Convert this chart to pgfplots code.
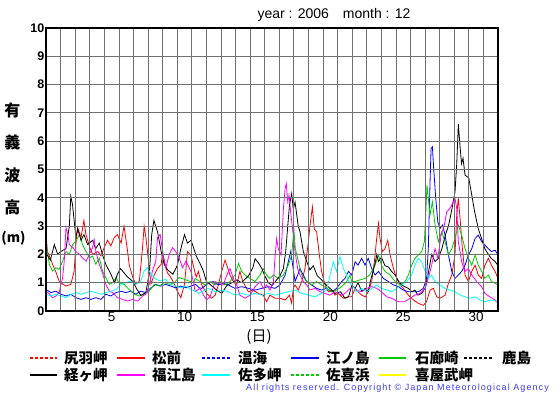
\documentclass[border=0pt]{standalone}
\usepackage{fontspec}
\setmainfont{Liberation Sans}
\newfontfamily\cjk{Noto Sans CJK JP}
\newfontfamily\copyfont{Liberation Sans}[LetterSpace=12]
\usepackage{pgfplots}
\pgfplotsset{compat=1.18}
\definecolor{gridc}{HTML}{707070}
\definecolor{sred}{HTML}{FF0000}
\definecolor{sblue}{HTML}{0000FF}
\definecolor{sgreen}{HTML}{00CC00}
\definecolor{smag}{HTML}{FF00FF}
\definecolor{scyan}{HTML}{00FFFF}
\definecolor{syel}{HTML}{FFFF00}
\definecolor{copyc}{HTML}{3C3CF0}
\tikzset{
  ser/.style={line width=0.8pt},
  leg/.style={line width=2.8pt},
  legd/.style={line width=1.4pt,dash pattern=on 3pt off 2pt},
  legt/.style={anchor=west,font=\cjk\bfseries\fontsize{14.5}{14.5}\selectfont,inner sep=0pt},
}
\begin{document}
\begin{tikzpicture}[x=1pt,y=1pt]
\useasboundingbox (0,0) rectangle (555,395);
\begin{axis}[
  at={(46pt,84pt)}, anchor=south west, scale only axis,
  width=452pt, height=283pt,
  xmin=0, xmax=31, ymin=0, ymax=10,
  xtick={4.5,9.5,14.5,19.5,24.5,29.5}, xticklabels={5,10,15,20,25,30},
  minor xtick={1,...,30},
  ytick={0,...,10},
  xmajorgrids=false, xminorgrids=true, ymajorgrids=true,
  major tick length=0pt, minor tick length=0pt,
  grid style={draw=gridc,line width=0.8pt},
  minor grid style={draw=gridc,line width=0.8pt},
  axis line style={line width=1.4pt},
  /pgf/number format/assume math mode=true,
  xticklabel style={font=\fontsize{13.5}{13.5}\selectfont,inner ysep=1pt},
  yticklabel style={font=\bfseries\fontsize{12.5}{12.5}\selectfont,inner xsep=1.5pt},
  axis on top,
]
% 松前
\addplot[ser,sred] coordinates {(0,2.75)(0.1,2.1)(0.23,1.95)(0.45,1.65)(0.7,1.35)(0.9,1.05)(1.15,0.95)(1.37,0.88)(1.7,0.94)(1.93,1.4)(2.05,2.35)(2.17,2.95)(2.4,2.6)(2.6,3.2)(2.74,2.7)(3.0,2.25)(3.2,2.0)(3.55,2.1)(3.77,1.95)(4.0,2.25)(4.22,2.5)(4.45,2.3)(4.68,2.6)(4.9,2.7)(5.15,2.4)(5.35,3.0)(5.6,2.1)(5.7,1.65)(5.94,1.2)(6.15,0.95)(6.4,1.05)(6.6,2.1)(6.73,3.0)(6.85,2.6)(6.96,2.1)(7.1,1.4)(7.2,0.95)(7.4,1.25)(7.65,1.5)(7.9,1.65)(8.0,2.1)(8.1,1.75)(8.33,1.35)(8.55,1.2)(8.8,0.95)(9.0,0.7)(9.25,0.47)(9.5,0.95)(9.6,1.5)(9.7,2.1)(9.95,1.95)(10.15,1.5)(10.3,1.2)(10.45,1.4)(10.68,0.92)(11.02,0.62)(11.36,0.45)(11.6,0.56)(11.82,0.92)(12.05,1.4)(12.28,1.8)(12.4,1.62)(12.62,1.27)(12.85,1.04)(13.08,0.92)(13.3,1.4)(13.5,1.04)(13.88,0.68)(14.2,0.74)(14.56,0.62)(14.9,0.56)(15.13,0.33)(15.36,0.56)(15.7,0.45)(16.05,0.45)(16.4,0.39)(16.7,0.56)(16.85,0.27)(16.96,0.8)(17.08,0.92)(17.3,0.74)(17.54,1.04)(17.76,1.5)(18.0,2.45)(18.1,3.0)(18.27,3.68)(18.4,2.9)(18.56,2.8)(18.72,2.1)(18.9,1.4)(19.14,0.92)(19.37,0.68)(19.6,0.74)(19.82,0.56)(20.05,0.62)(20.4,0.45)(20.7,0.5)(20.97,0.5)(21.2,0.8)(21.4,0.68)(21.65,0.56)(21.9,0.5)(22.1,0.68)(22.34,1.04)(22.52,1.74)(22.68,2.56)(22.8,3.1)(22.91,2.56)(23.07,2.1)(23.25,2.2)(23.44,2.5)(23.6,1.98)(23.83,1.5)(24.05,1.15)(24.28,0.92)(24.5,0.8)(24.85,0.56)(25.2,0.39)(25.54,0.27)(25.88,0.2)(26.1,0.33)(26.34,0.74)(26.57,0.8)(26.8,0.5)(27.03,0.45)(27.37,0.56)(27.6,0.98)(27.83,1.27)(28.05,1.98)(28.17,3.4)(28.28,3.98)(28.4,3.27)(28.56,2.2)(28.74,1.27)(28.97,1.04)(29.2,1.4)(29.43,1.62)(29.65,1.27)(29.88,1.15)(30.1,1.62)(30.34,1.86)(30.55,1.62)(30.8,1.4)(31.0,1.15)};
% 江ノ島
\addplot[ser,sblue] coordinates {(0,0.76)(0.34,0.65)(0.68,0.7)(1.03,0.59)(1.37,0.53)(1.71,0.59)(2.05,0.47)(2.4,0.41)(2.74,0.47)(3.08,0.41)(3.42,0.47)(3.77,0.41)(4.1,0.59)(4.45,0.53)(4.8,0.65)(5.14,0.7)(5.48,0.65)(5.82,0.7)(6.16,0.59)(6.5,0.7)(6.85,0.65)(7.2,0.82)(7.53,0.94)(7.88,0.88)(8.2,0.94)(8.56,0.88)(8.9,0.82)(9.25,0.88)(9.6,0.82)(9.93,0.88)(10.27,0.94)(10.5,0.82)(10.68,0.8)(11.13,0.98)(11.47,1.04)(11.82,0.92)(12.16,0.98)(12.5,0.92)(12.96,0.8)(13.42,0.86)(13.88,0.8)(14.34,0.74)(14.8,0.8)(15.25,0.86)(15.7,0.8)(16.05,0.92)(16.4,1.27)(16.62,1.74)(16.78,2.1)(16.92,1.62)(17.08,1.04)(17.26,1.27)(17.42,1.5)(17.65,1.27)(17.88,1.04)(18.22,0.92)(18.56,0.8)(18.9,0.74)(19.25,0.8)(19.6,0.68)(19.93,0.8)(20.28,1.04)(20.5,1.15)(20.74,1.4)(20.97,1.27)(21.2,1.74)(21.4,1.62)(21.65,1.86)(21.88,1.62)(22.1,1.86)(22.34,1.5)(22.57,1.27)(22.8,1.4)(23.14,1.15)(23.48,1.04)(23.83,0.92)(24.17,0.86)(24.5,0.74)(24.85,0.68)(25.2,0.68)(25.54,0.68)(25.88,0.8)(26.1,1.15)(26.22,2.2)(26.34,4.56)(26.41,5.74)(26.5,5.8)(26.59,5.03)(26.73,3.98)(26.87,3.15)(27.03,2.92)(27.2,3.04)(27.37,2.68)(27.6,1.98)(27.83,1.4)(28.05,1.15)(28.28,1.27)(28.51,1.4)(28.74,1.62)(28.97,1.98)(29.2,2.2)(29.43,2.56)(29.65,2.68)(29.88,2.45)(30.1,2.33)(30.34,2.2)(30.55,2.1)(30.8,2.15)(31.0,1.98)};
% 石廊崎
\addplot[ser,sgreen] coordinates {(0,2.4)(0.23,1.65)(0.45,1.41)(0.68,1.53)(0.9,1.47)(1.14,1.76)(1.37,2.1)(1.6,2.0)(1.83,2.35)(2.05,2.47)(2.3,2.7)(2.5,2.35)(2.75,2.1)(2.97,1.88)(3.2,1.94)(3.42,1.65)(3.65,1.88)(3.88,1.41)(4.1,1.18)(4.34,0.94)(4.57,1.0)(4.8,1.18)(5.0,1.0)(5.36,0.94)(5.7,0.76)(6.05,0.59)(6.4,0.53)(6.73,0.59)(7.08,0.7)(7.42,0.94)(7.76,0.88)(8.1,1.0)(8.45,0.94)(8.79,1.0)(9.13,1.18)(9.47,1.12)(9.8,1.06)(10.15,1.0)(10.22,1.15)(10.56,1.04)(10.9,0.92)(11.25,1.04)(11.6,0.92)(11.93,1.04)(12.28,0.92)(12.62,1.04)(12.96,1.27)(13.2,1.68)(13.42,1.4)(13.65,1.27)(14.0,1.15)(14.34,1.04)(14.68,1.27)(14.9,1.5)(15.13,1.27)(15.36,1.15)(15.6,1.27)(15.93,1.15)(16.28,1.27)(16.62,1.62)(16.85,1.98)(17.0,2.9)(17.1,2.2)(17.26,1.86)(17.42,1.5)(17.54,1.27)(17.88,1.04)(18.22,0.92)(18.56,1.04)(18.9,0.92)(19.25,0.8)(19.6,0.68)(19.93,0.74)(20.28,0.86)(20.62,1.04)(20.85,1.27)(20.97,1.04)(21.2,1.04)(21.54,1.1)(21.88,1.15)(22.2,1.27)(22.57,1.62)(22.8,1.98)(23.0,1.62)(23.25,1.4)(23.6,1.27)(23.94,1.04)(24.28,0.92)(24.63,1.04)(24.85,1.27)(25.08,1.62)(25.3,1.86)(25.54,1.98)(25.77,2.1)(25.95,2.45)(26.04,3.4)(26.13,4.45)(26.22,3.98)(26.34,3.4)(26.5,3.86)(26.68,3.04)(26.91,2.45)(27.14,2.8)(27.37,2.45)(27.6,1.98)(27.83,2.2)(28.05,2.56)(28.28,3.04)(28.51,2.68)(28.74,2.2)(28.97,1.86)(29.2,1.62)(29.43,1.98)(29.65,1.62)(29.88,1.4)(30.1,1.15)(30.34,1.27)(30.55,1.04)(30.8,0.98)(31.0,0.92)};
% 経ヶ岬
\addplot[ser,black] coordinates {(0,2.05)(0.3,1.8)(0.57,2.35)(0.8,2.0)(1.0,2.1)(1.37,2.2)(1.6,3.0)(1.7,4.05)(1.82,3.75)(1.93,3.2)(2.05,2.6)(2.17,2.9)(2.4,2.5)(2.6,2.7)(2.85,2.35)(3.2,2.5)(3.4,2.2)(3.65,2.4)(3.9,1.95)(4.1,1.65)(4.45,1.3)(4.7,1.0)(4.9,1.3)(5.1,1.5)(5.35,1.35)(5.6,1.2)(5.95,1.05)(6.2,0.8)(6.5,0.55)(6.85,0.65)(7.1,1.4)(7.25,2.7)(7.4,3.2)(7.65,2.8)(7.9,2.1)(8.1,1.65)(8.35,1.45)(8.7,1.3)(9.0,1.6)(9.25,2.2)(9.5,2.7)(9.7,2.4)(9.95,2.5)(10.3,1.95)(10.56,1.68)(10.8,1.4)(11.0,1.04)(11.35,0.9)(11.7,0.74)(12.05,0.62)(12.4,0.9)(12.75,1.0)(13.1,1.1)(13.4,1.0)(13.9,1.25)(14.2,1.55)(14.34,1.85)(14.57,1.7)(14.8,1.5)(15.0,1.25)(15.25,1.0)(15.5,0.9)(15.82,1.1)(16.05,1.25)(16.28,1.5)(16.44,2.1)(16.58,3.0)(16.7,3.75)(16.85,4.15)(16.96,3.6)(17.08,3.85)(17.3,3.0)(17.42,2.8)(17.65,2.1)(17.88,1.75)(18.1,1.45)(18.33,1.6)(18.6,1.25)(18.9,1.1)(19.25,0.9)(19.6,0.74)(19.82,0.62)(20.2,0.68)(20.5,0.45)(20.75,0.5)(20.97,0.9)(21.2,0.8)(21.4,1.0)(21.65,0.7)(21.9,0.8)(22.1,0.7)(22.3,1.15)(22.6,1.75)(22.68,2.0)(22.8,1.75)(23.0,1.9)(23.25,1.6)(23.5,1.55)(23.7,1.4)(23.95,1.27)(24.2,1.04)(24.4,0.92)(24.6,0.86)(24.85,0.8)(25.1,0.68)(25.3,0.74)(25.5,0.56)(25.77,0.62)(26.0,0.8)(26.2,1.27)(26.45,2.0)(26.68,1.75)(26.9,1.85)(27.15,2.2)(27.4,2.7)(27.6,3.0)(27.8,3.5)(28.05,4.2)(28.17,5.2)(28.28,6.6)(28.4,5.8)(28.5,5.2)(28.6,5.4)(28.74,4.8)(29.0,4.7)(29.08,4.45)(29.2,4.1)(29.4,3.5)(29.65,2.9)(29.88,2.55)(30.1,2.2)(30.34,2.0)(30.55,1.85)(30.8,1.75)(31.0,1.6)};
% 福江島
\addplot[ser,smag] coordinates {(0,0.7)(0.2,0.62)(0.45,0.47)(0.68,0.53)(0.9,0.65)(1.14,1.18)(1.25,1.76)(1.37,2.94)(1.5,2.7)(1.6,2.35)(1.83,2.24)(2.05,2.1)(2.3,2.0)(2.5,1.88)(2.75,1.76)(2.97,2.0)(3.2,2.24)(3.3,2.53)(3.42,2.1)(3.65,1.65)(3.9,1.3)(4.1,0.94)(4.35,0.7)(4.57,0.65)(4.9,0.47)(5.25,0.41)(5.6,0.35)(5.94,0.41)(6.3,0.35)(6.62,0.53)(6.85,0.59)(7.08,0.94)(7.3,1.41)(7.53,1.76)(7.65,2.6)(7.83,2.7)(8.0,2.1)(8.22,1.53)(8.45,2.0)(8.68,2.24)(8.9,2.1)(9.13,1.88)(9.36,1.53)(9.6,1.76)(9.93,1.41)(10.15,0.94)(10.22,0.68)(10.56,0.8)(10.8,0.56)(11.02,0.39)(11.25,0.5)(11.6,1.04)(11.82,0.98)(12.16,0.92)(12.4,1.27)(12.62,1.5)(12.85,1.15)(13.08,0.92)(13.3,0.56)(13.65,0.45)(14.0,0.56)(14.34,0.86)(14.68,1.04)(14.9,0.8)(15.13,0.92)(15.36,0.74)(15.6,1.04)(15.7,1.86)(15.82,2.56)(15.93,2.2)(16.12,1.98)(16.28,3.6)(16.4,4.33)(16.48,4.5)(16.58,3.86)(16.67,4.1)(16.8,3.4)(16.96,2.68)(17.08,2.1)(17.26,1.5)(17.42,1.27)(17.65,1.04)(17.88,0.92)(18.1,0.74)(18.45,0.8)(18.8,0.68)(19.14,0.62)(19.48,0.56)(19.82,0.68)(20.28,0.56)(20.5,0.62)(20.85,0.8)(21.08,0.86)(21.3,0.74)(21.65,0.68)(22.0,0.8)(22.34,0.86)(22.68,0.8)(23.0,0.68)(23.37,0.5)(23.7,0.45)(24.17,0.33)(24.6,0.33)(24.97,0.45)(25.3,0.56)(25.65,0.62)(26.0,0.8)(26.22,1.15)(26.45,1.62)(26.68,2.2)(26.87,1.86)(27.1,2.68)(27.32,3.04)(27.48,3.5)(27.7,3.62)(27.94,3.86)(28.05,3.98)(28.17,3.62)(28.28,2.45)(28.51,1.74)(28.74,1.4)(28.97,1.5)(29.2,1.27)(29.54,1.04)(29.88,0.86)(30.1,0.62)(30.45,0.5)(30.8,0.39)(31.0,0.27)};
% 佐多岬
\addplot[ser,scyan] coordinates {(0,0.59)(0.34,0.53)(0.68,0.59)(1.03,0.53)(1.37,0.47)(1.71,0.59)(2.05,0.65)(2.4,0.59)(2.74,0.65)(3.08,0.7)(3.42,0.65)(3.77,0.59)(4.1,0.65)(4.45,0.7)(4.8,0.76)(5.14,0.94)(5.48,1.0)(5.82,1.06)(6.16,0.94)(6.5,1.06)(6.73,1.41)(6.96,1.53)(7.2,1.3)(7.53,1.12)(7.88,1.06)(8.2,1.12)(8.56,0.94)(8.9,0.88)(9.25,0.82)(9.6,0.88)(9.93,0.76)(10.27,0.7)(10.5,0.62)(10.68,0.68)(11.13,0.8)(11.6,0.68)(12.05,0.74)(12.5,0.68)(12.96,0.56)(13.42,0.62)(13.88,0.56)(14.34,0.62)(14.8,0.56)(15.25,0.62)(15.7,0.56)(16.16,0.62)(16.62,0.68)(17.08,0.74)(17.54,0.62)(18.0,0.56)(18.45,0.5)(18.9,0.62)(19.25,0.74)(19.48,1.27)(19.71,1.74)(19.93,1.4)(20.16,1.92)(20.4,1.5)(20.62,1.27)(20.74,1.04)(20.97,0.92)(21.3,0.68)(21.65,0.8)(22.0,0.68)(22.34,0.8)(22.68,0.92)(23.0,0.8)(23.37,0.74)(23.7,0.68)(24.05,0.8)(24.4,0.92)(24.74,1.04)(25.08,1.27)(25.3,1.62)(25.54,1.86)(25.77,1.74)(26.0,1.4)(26.22,1.15)(26.45,1.27)(26.68,1.04)(27.0,0.92)(27.37,0.8)(27.7,0.74)(28.05,0.68)(28.4,0.56)(28.74,0.5)(29.08,0.45)(29.43,0.5)(29.77,0.39)(30.1,0.33)(30.55,0.39)(31.0,0.33)};
\end{axis}
% title
\node[font=\fontsize{14}{14}\selectfont] at (334,380) {year : 2006\hspace{14pt}month : 12};
% y label
\begin{scope}[every node/.style={font=\cjk\bfseries\fontsize{16}{16}\selectfont,inner sep=0pt}]
\node at (12.5,285) {有};
\node at (12.5,253) {義};
\node at (12.5,220) {波};
\node at (12.5,188) {高};
\node[font=\cjk\bfseries\fontsize{13.5}{13.5}\selectfont] at (13.5,157) {(m)};
\end{scope}
\node[font=\cjk\fontsize{15}{15}\selectfont] at (259,58) {(日)};
% legend
\draw[legd,sred] (30,37) -- (57,37);   \node[legt] at (64,37) {尻羽岬};
\draw[leg,sred] (117,37) -- (145,37);  \node[legt] at (152,37) {松前};
\draw[legd,sblue] (202,37) -- (230,37); \node[legt] at (238,37) {温海};
\draw[leg,sblue] (291,37) -- (319,37); \node[legt] at (326,37) {江ノ島};
\draw[leg,sgreen] (379,37) -- (406,37); \node[legt] at (415,37) {石廊崎};
\draw[legd,black] (464,37) -- (493,37); \node[legt] at (502,37) {鹿島};
\draw[leg,black] (30,20) -- (57,20);   \node[legt] at (64,20) {経ヶ岬};
\draw[leg,smag] (117,20) -- (145,20);  \node[legt] at (152,20) {福江島};
\draw[leg,scyan] (202,20) -- (230,20); \node[legt] at (238,20) {佐多岬};
\draw[legd,sgreen] (291,20) -- (319,20); \node[legt] at (326,20) {佐喜浜};
\draw[leg,syel] (379,20) -- (406,20);  \node[legt] at (415,20) {喜屋武岬};
\node[anchor=east,inner sep=0pt,text=copyc,font=\copyfont\fontsize{9}{9}\selectfont] at (549,7) {All rights reserved. Copyright \textcopyright{} Japan Meteorological Agency};
\end{tikzpicture}
\end{document}
